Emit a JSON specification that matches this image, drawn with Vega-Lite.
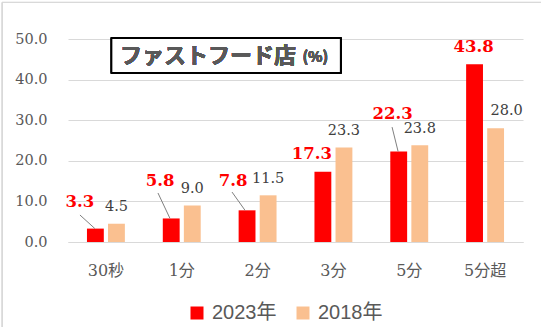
{
  "$schema": "https://vega.github.io/schema/vega-lite/v6.json",
  "width": 455,
  "height": 203,
  "autosize": {"type": "none"},
  "padding": {"left": 68, "top": 39, "right": 18, "bottom": 85},
  "background": "white",
  "config": {"view": {"stroke": null}},
  "data": {
    "values": [
      {"cat": "30秒", "year": "2023年", "value": 3.3},
      {"cat": "1分", "year": "2023年", "value": 5.8},
      {"cat": "2分", "year": "2023年", "value": 7.8},
      {"cat": "3分", "year": "2023年", "value": 17.3},
      {"cat": "5分", "year": "2023年", "value": 22.3},
      {"cat": "5分超", "year": "2023年", "value": 43.8},
      {"cat": "30秒", "year": "2018年", "value": 4.5},
      {"cat": "1分", "year": "2018年", "value": 9.0},
      {"cat": "2分", "year": "2018年", "value": 11.5},
      {"cat": "3分", "year": "2018年", "value": 23.3},
      {"cat": "5分", "year": "2018年", "value": 23.8},
      {"cat": "5分超", "year": "2018年", "value": 28.0}
    ]
  },
  "encoding": {
    "x": {
      "field": "cat",
      "type": "nominal",
      "sort": ["30秒", "1分", "2分", "3分", "5分", "5分超"],
      "scale": {"paddingInner": 0.5, "paddingOuter": 0.25},
      "axis": {
        "title": null,
        "labelAngle": 0,
        "ticks": false,
        "domain": true,
        "domainColor": "#D9D9D9",
        "labelPadding": 20,
        "labelFont": "DejaVu Serif, Noto Sans CJK JP",
        "labelFontSize": 16,
        "labelColor": "#595959"
      }
    },
    "y": {
      "field": "value",
      "type": "quantitative",
      "scale": {"domain": [0, 50], "nice": false},
      "axis": {
        "title": null,
        "values": [0, 10, 20, 30, 40, 50],
        "format": ".1f",
        "ticks": false,
        "domain": false,
        "grid": true,
        "gridColor": "#D9D9D9",
        "labelPadding": 21,
        "labelFont": "DejaVu Serif",
        "labelFontSize": 14.5,
        "labelColor": "#595959"
      }
    }
  },
  "layer": [
    {
      "mark": {"type": "rect", "fill": null, "stroke": "#D9D9D9", "strokeWidth": 1, "clip": false},
      "encoding": {
        "x": {"datum": "30秒", "bandPosition": -2.23},
        "x2": {"datum": "5分超", "bandPosition": 3},
        "y": {"datum": 59},
        "y2": {"datum": -30}
      }
    },
    {
      "mark": {"type": "bar"},
      "encoding": {
        "xOffset": {"field": "year", "type": "nominal", "sort": ["2023年", "2018年"], "scale": {"paddingInner": 0.2}},
        "color": {
          "field": "year",
          "type": "nominal",
          "sort": ["2023年", "2018年"],
          "scale": {"domain": ["2023年", "2018年"], "range": ["#FF0000", "#FAC090"]},
          "legend": {
            "title": null,
            "orient": "none",
            "legendX": 119,
            "legendY": 264,
            "direction": "horizontal",
            "symbolType": "square",
            "symbolSize": 169,
            "symbolStrokeWidth": 0,
            "labelFont": "Liberation Sans, Noto Sans CJK JP",
            "labelFontSize": 20,
            "labelColor": "#595959",
            "labelOffset": 5,
            "columnPadding": 16
          }
        }
      }
    },
    {
      "transform": [{"filter": "datum.year === '2018年' && datum.cat !== '5分超'"}],
      "mark": {"type": "text", "baseline": "middle", "dy": -16.5, "font": "DejaVu Serif", "fontSize": 14.5, "color": "#404040"},
      "encoding": {
        "xOffset": {"field": "year", "type": "nominal", "sort": ["2023年", "2018年"], "scale": {"paddingInner": 0.2}},
        "text": {"field": "value", "type": "quantitative", "format": ".1f"}
      }
    },
    {
      "transform": [{"filter": "datum.year === '2018年' && datum.cat === '5分超'"}],
      "mark": {"type": "text", "baseline": "middle", "dx": 11, "dy": -17.5, "font": "DejaVu Serif", "fontSize": 14.5, "color": "#404040"},
      "encoding": {
        "xOffset": {"field": "year", "type": "nominal", "sort": ["2023年", "2018年"], "scale": {"paddingInner": 0.2}},
        "text": {"field": "value", "type": "quantitative", "format": ".1f"}
      }
    },
    {
      "transform": [{"filter": "datum.year === '2023年' && datum.cat === '30秒'"}],
      "layer": [
        {
          "mark": {"type": "rule", "color": "#808080", "strokeWidth": 1},
          "encoding": {
            "x": {"field": "cat", "type": "nominal", "sort": ["30秒", "1分", "2分", "3分", "5分", "5分超"], "bandPosition": 0.21},
            "x2": {"field": "cat", "bandPosition": -0.185},
            "y2": {"datum": 6.65}
          }
        },
        {
          "mark": {"type": "text", "baseline": "middle", "dx": -15.4, "dy": -26.6, "font": "DejaVu Serif", "fontWeight": "bold", "fontSize": 16.5, "color": "#FF0000"},
          "encoding": {
            "xOffset": {"field": "year", "type": "nominal", "sort": ["2023年", "2018年"], "scale": {"paddingInner": 0.2}},
            "text": {"field": "value", "type": "quantitative", "format": ".1f"}
          }
        }
      ]
    },
    {
      "transform": [{"filter": "datum.year === '2023年' && datum.cat === '1分'"}],
      "layer": [
        {
          "mark": {"type": "rule", "color": "#808080", "strokeWidth": 1},
          "encoding": {
            "x": {"field": "cat", "type": "nominal", "sort": ["30秒", "1分", "2分", "3分", "5分", "5分超"], "bandPosition": 0.19},
            "x2": {"field": "cat", "bandPosition": -0.127},
            "y2": {"datum": 12.07}
          }
        },
        {
          "mark": {"type": "text", "baseline": "middle", "dx": -11, "dy": -37.5, "font": "DejaVu Serif", "fontWeight": "bold", "fontSize": 16.5, "color": "#FF0000"},
          "encoding": {
            "xOffset": {"field": "year", "type": "nominal", "sort": ["2023年", "2018年"], "scale": {"paddingInner": 0.2}},
            "text": {"field": "value", "type": "quantitative", "format": ".1f"}
          }
        }
      ]
    },
    {
      "transform": [{"filter": "datum.year === '2023年' && datum.cat === '2分'"}],
      "layer": [
        {
          "mark": {"type": "rule", "color": "#808080", "strokeWidth": 1},
          "encoding": {
            "x": {"field": "cat", "type": "nominal", "sort": ["30秒", "1分", "2分", "3分", "5分", "5分超"], "bandPosition": 0.169},
            "x2": {"field": "cat", "bandPosition": -0.174},
            "y2": {"datum": 12.3}
          }
        },
        {
          "mark": {"type": "text", "baseline": "middle", "dx": -14, "dy": -29, "font": "DejaVu Serif", "fontWeight": "bold", "fontSize": 16.5, "color": "#FF0000"},
          "encoding": {
            "xOffset": {"field": "year", "type": "nominal", "sort": ["2023年", "2018年"], "scale": {"paddingInner": 0.2}},
            "text": {"field": "value", "type": "quantitative", "format": ".1f"}
          }
        }
      ]
    },
    {
      "transform": [{"filter": "datum.year === '2023年' && datum.cat === '3分'"}],
      "mark": {"type": "text", "baseline": "middle", "dx": -11, "dy": -18, "font": "DejaVu Serif", "fontWeight": "bold", "fontSize": 16.5, "color": "#FF0000"},
      "encoding": {
        "xOffset": {"field": "year", "type": "nominal", "sort": ["2023年", "2018年"], "scale": {"paddingInner": 0.2}},
        "text": {"field": "value", "type": "quantitative", "format": ".1f"}
      }
    },
    {
      "transform": [{"filter": "datum.year === '2023年' && datum.cat === '5分'"}],
      "layer": [
        {
          "mark": {"type": "rule", "color": "#808080", "strokeWidth": 1},
          "encoding": {
            "x": {"field": "cat", "type": "nominal", "sort": ["30秒", "1分", "2分", "3分", "5分", "5分超"], "bandPosition": 0.206},
            "x2": {"field": "cat", "bandPosition": 0.047},
            "y2": {"datum": 28.3}
          }
        },
        {
          "mark": {"type": "text", "baseline": "middle", "dx": -6, "dy": -37.5, "font": "DejaVu Serif", "fontWeight": "bold", "fontSize": 16.5, "color": "#FF0000"},
          "encoding": {
            "xOffset": {"field": "year", "type": "nominal", "sort": ["2023年", "2018年"], "scale": {"paddingInner": 0.2}},
            "text": {"field": "value", "type": "quantitative", "format": ".1f"}
          }
        }
      ]
    },
    {
      "transform": [{"filter": "datum.year === '2023年' && datum.cat === '5分超'"}],
      "mark": {"type": "text", "baseline": "middle", "dx": -1, "dy": -17, "font": "DejaVu Serif", "fontWeight": "bold", "fontSize": 16.5, "color": "#FF0000"},
      "encoding": {
        "xOffset": {"field": "year", "type": "nominal", "sort": ["2023年", "2018年"], "scale": {"paddingInner": 0.2}},
        "text": {"field": "value", "type": "quantitative", "format": ".1f"}
      }
    },
    {
      "mark": {"type": "rect", "fill": "white", "stroke": "black", "strokeWidth": 1.5},
      "encoding": {
        "x": {"datum": "30秒", "bandPosition": 0.65},
        "x2": {"datum": "3分", "bandPosition": 0.69},
        "y": {"datum": 50.2},
        "y2": {"datum": 41.7}
      }
    },
    {
      "mark": {"type": "text", "align": "left", "baseline": "middle", "dx": 14, "font": "Noto Sans CJK JP", "fontWeight": "bold", "fontSize": 22, "color": "#595959", "text": "ファストフード店"},
      "encoding": {
        "x": {"datum": "30秒"},
        "y": {"datum": 45.8}
      }
    },
    {
      "mark": {"type": "text", "align": "left", "baseline": "middle", "dx": 196.5, "font": "Noto Sans CJK JP", "fontWeight": "bold", "fontSize": 15, "color": "#595959", "text": "(%)"},
      "encoding": {
        "x": {"datum": "30秒"},
        "y": {"datum": 45.6}
      }
    }
  ]
}
